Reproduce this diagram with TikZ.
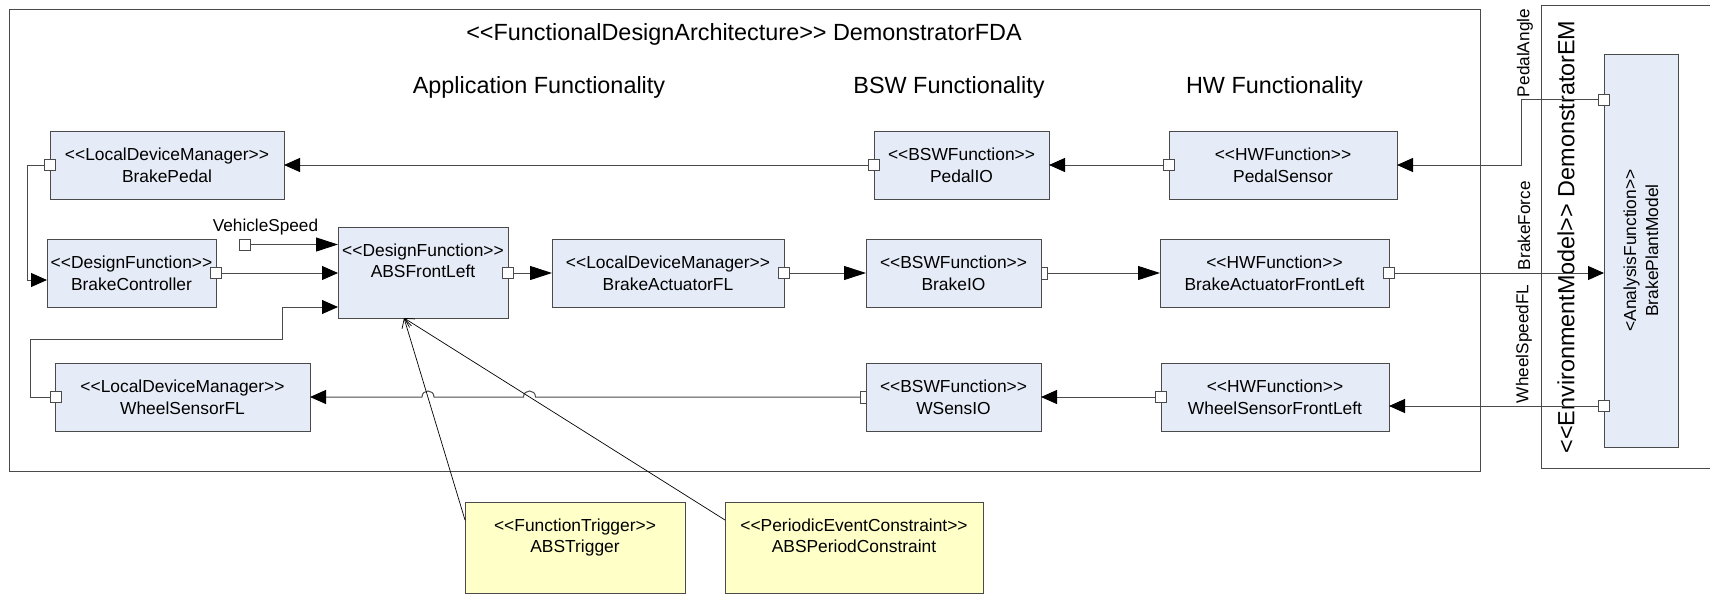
\documentclass[tikz,border=0pt]{standalone}
\usepackage{fontspec}
\setmainfont{Liberation Sans}
\usetikzlibrary{arrows.meta}
\definecolor{boxblue}{HTML}{E6ECF7}
\definecolor{noteyellow}{HTML}{FFFFC8}
\definecolor{edgec}{HTML}{4A4A4A}
\newcommand\opn{<\kern0pt<}
\newcommand\cls{>\kern0pt>}
\begin{document}
\begin{tikzpicture}[x=1pt,y=-1pt,
  every node/.style={inner sep=0pt, outer sep=0pt},
  fbox/.style={draw=edgec, fill=boxblue, line width=0.9pt, align=center, font=\fontsize{17.4}{22}\selectfont},
  ybox/.style={draw=edgec, fill=noteyellow, line width=0.9pt},
  btext/.style={align=center, font=\fontsize{17.4}{21}\selectfont, anchor=north},
  port/.style={draw=edgec, fill=white, line width=0.8pt, minimum width=11pt, minimum height=11pt},
  halfport/.style={draw=edgec, fill=white, line width=0.8pt, minimum width=6pt, minimum height=12pt},
  conn/.style={draw=edgec, line width=1pt},
  longtip/.style={-{Triangle[length=22pt,width=14pt,color=black,fill=black]}},
  shorttip/.style={-{Triangle[length=16pt,width=14pt,color=black,fill=black]}},
  dep/.style={draw=black, line width=0.7pt, -{Straight Barb[length=9pt,width=10pt]}},
  head/.style={font=\fontsize{23.4}{28}\selectfont},
  lbl/.style={font=\fontsize{17.2}{20}\selectfont},
  frame/.style={draw=edgec, line width=1pt},
]
\useasboundingbox (0,0) rectangle (1710,595);
\fill[white] (0,0) rectangle (1710,595);

% frames
\draw[frame] (9,9) rectangle (1480,471);
\draw[frame] (1712,5) -- (1541.5,5) -- (1541.5,468) -- (1712,468);

% headings
\node[head] (fdaTitle) at (744,34) {\opn FunctionalDesignArchitecture\cls{} DemonstratorFDA};
\node[head] (appH) at (539,87) {Application Functionality};
\node[head] (bswH) at (949,87) {BSW Functionality};
\node[head] (hwH) at (1274.5,87) {HW Functionality};
\node[head, rotate=90] (emT) at (1566,237) {\opn EnvironmentModel\cls{} DemonstratorEM};

% row 1
\node[fbox, minimum width=234pt, minimum height=68pt] (bp) at (167,165) {\opn LocalDeviceManager\cls\\BrakePedal};
\node[fbox, minimum width=175pt, minimum height=68pt] (pio) at (961.5,165) {\opn BSWFunction\cls\\PedalIO};
\node[fbox, minimum width=228pt, minimum height=68pt] (ps) at (1283,165) {\opn HWFunction\cls\\PedalSensor};
% row 2
\node[fbox, minimum width=169pt, minimum height=68pt] (bc) at (131.5,273) {\opn DesignFunction\cls\\BrakeController};
\node[fbox, minimum width=170pt, minimum height=91pt] (abs) at (423,272.5) {};
\node[btext] (absT) at (423,243.5) {\opn DesignFunction\cls\\ABSFrontLeft};
\node[fbox, minimum width=232pt, minimum height=68pt] (bafl) at (668,273) {\opn LocalDeviceManager\cls\\BrakeActuatorFL};
\node[fbox, minimum width=175pt, minimum height=68pt] (brio) at (953.5,273) {\opn BSWFunction\cls\\BrakeIO};
\node[fbox, minimum width=229pt, minimum height=68pt] (bafr) at (1274.5,273) {\opn HWFunction\cls\\BrakeActuatorFrontLeft};
% row 3
\node[fbox, minimum width=255pt, minimum height=68pt] (wsfl) at (182.5,397) {\opn LocalDeviceManager\cls\\WheelSensorFL};
\node[fbox, minimum width=175pt, minimum height=68pt] (wsens) at (953.5,397) {\opn BSWFunction\cls\\WSensIO};
\node[fbox, minimum width=228pt, minimum height=68pt] (wsfr) at (1275,397) {\opn HWFunction\cls\\WheelSensorFrontLeft};
% environment model
\node[fbox, rotate=90, minimum width=393pt, minimum height=74pt] (bpm) at (1641,250.5) {<AnalysisFunction\cls\\BrakePlantModel};

% notes
\node[ybox, minimum width=220pt, minimum height=91pt] (trig) at (575,547.5) {};
\node[btext] (trigT) at (575,519) {\opn FunctionTrigger\cls\\ABSTrigger};
\node[ybox, minimum width=258pt, minimum height=91pt] (per) at (854,547.5) {};
\node[btext] (perT) at (854,519) {\opn PeriodicEventConstraint\cls\\ABSPeriodConstraint};

% ports
\node[port] (bpP) at (50,165) {};
\node[port] (pioP) at (874,165) {};
\node[port] (psP) at (1169,165) {};
\node[port] (bpmP1) at (1604,99.5) {};
\node[port] (bpmP2) at (1604,406) {};
\node[port] (bcP) at (216,273) {};
\node[port] (vsP) at (244.5,244.5) {};
\node[port] (absP) at (508,273) {};
\node[port] (baflP) at (784,273) {};
\node[halfport] (brioP) at (1044,273) {};
\node[port] (bafrP) at (1389,273) {};
\node[port] (wsflP) at (55.5,397) {};
\node[halfport] (wsensP) at (863,397) {};
\node[port] (wsfrP) at (1161,397) {};

% labels
\node[lbl] (vsL) at (265.5,227) {VehicleSpeed};
\node[lbl, rotate=90, anchor=west] (paL) at (1525,97) {PedalAngle};
\node[lbl, rotate=90, anchor=west] (bfL) at (1524,270) {BrakeForce};
\node[lbl, rotate=90, anchor=west] (wsL) at (1524,403) {WheelSpeedFL};

% bend points
\coordinate (paBend) at (1521,99.5);
\coordinate (leftA) at (27.5,165);
\coordinate (bcIn) at (47,280);
\coordinate (wsA) at (30.6,339);
\coordinate (wsB) at (282,307);
\coordinate (absTip) at (404,318);
\coordinate (trigA) at (465,520);
\coordinate (perA) at (725,520);

% connectors row 1
\draw[conn, shorttip] (pioP.west) -- (bp.east);
\draw[conn, shorttip] (psP.west) -- (pio.east);
\draw[conn, shorttip] (bpmP1.west) -- (paBend) |- (ps.east);
% connectors row 2
\draw[conn, shorttip] (bpP.west) -- (leftA) |- (bcIn);
\draw[conn, longtip] (vsP.east) -- (vsP.east -| abs.west);
\draw[conn, shorttip] (bcP.east) -- (bcP.east -| abs.west);
\draw[conn, shorttip] (wsflP.west) -| (wsA) -| (wsB) -- (wsB -| abs.west);
\draw[conn, longtip] (absP.east) -- (absP.east -| bafl.west);
\draw[conn, longtip] (baflP.east) -- (baflP.east -| brio.west);
\draw[conn, longtip] (brioP.east) -- (brioP.east -| bafr.west);
\draw[conn, shorttip] (bafrP.east) -- (bafrP.east -| bpmP1.center);
% connectors row 3
\draw[conn, shorttip] (bpmP2.west) -- (bpmP2.west -| wsfr.east);
\draw[conn, shorttip] (wsfrP.west) -- (wsens.east);
\draw[conn, shorttip] (wsensP.west) -- (535.5,397)
  .. controls (535.5,389) and (523.5,389) .. (523.5,397) -- (434,397)
  .. controls (434,389) and (422,389) .. (422,397) -- (wsfl.east);
% dependencies
\draw[dep] (trigA) -- (absTip);
\draw[dep] (perA) -- (absTip);
\end{tikzpicture}
\end{document}
